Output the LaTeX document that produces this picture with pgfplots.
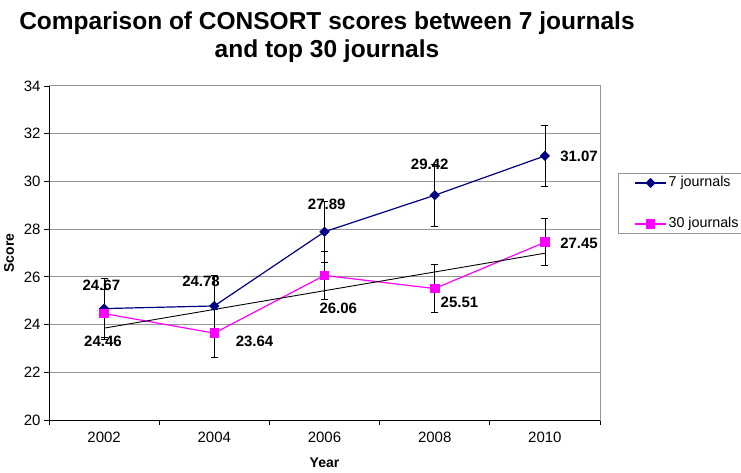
\documentclass[border=0pt]{standalone}
\usepackage{pgfplots}
\pgfplotsset{compat=1.18}
\usepackage{fontspec}
\setmainfont{Liberation Sans}
\definecolor{navyc}{RGB}{0,0,128}
\definecolor{magc}{RGB}{255,0,255}
\definecolor{gridc}{RGB}{150,150,150}
\newcommand{\lgf}{\fontsize{14.3}{14.3}\selectfont}
\begin{document}
\begin{tikzpicture}
\useasboundingbox (0,0) rectangle (741pt,472pt);
\begin{axis}[
 at={(49pt,52pt)}, anchor=south west,
 scale only axis, width=551pt, height=334pt,
 xmin=2001, xmax=2011, ymin=20, ymax=34,
 xtick={2002,2004,...,2010}, xticklabels={2002,2004,2006,2008,2010},
 minor xtick={2001,2003,...,2011},
 ytick={20,22,...,34},
 ymajorgrids, grid style={gridc, line width=1pt},
 major x tick style={draw=none},
 tick align=outside, xtick pos=bottom, ytick pos=left,
 major tick length=5pt, minor tick length=5pt,
 tick style={black, line width=0.8pt},
 axis line style={gridc, line width=1pt},
 /pgf/number format/assume math mode=true,
 ticklabel style={font=\fontsize{15}{15}\selectfont},
 xticklabel style={yshift=-3pt},
 xlabel={Year}, ylabel={Score},
 label style={font=\bfseries\fontsize{14}{14}\selectfont},
 xlabel style={at={(axis description cs:0.5,-0.1287)}, anchor=center},
 ylabel style={at={(axis description cs:-0.0726,0.5)}, anchor=center},
 title={Comparison of CONSORT scores between 7 journals\\and top 30 journals},
 title style={font=\bfseries\fontsize{24.5}{28}\selectfont, align=center,
   at={(axis description cs:0.5045,1.1287)}, anchor=center},
 legend style={at={(rel axis cs:1.0327,0.7395)}, anchor=north west,
   draw=gridc, line width=0.8pt,
   row sep=24pt, inner xsep=16pt, inner ysep=1pt,
   nodes={text height=10pt, text depth=3pt}},
 legend cell align=left,
 legend image code/.code={\draw[mark repeat=2,mark phase=2,#1] plot coordinates {(0pt,0pt) (15.5pt,0pt) (31pt,0pt)};},
 error bars/error bar style={black, line width=0.8pt},
 error bars/error mark options={rotate=90, mark size=3.5pt, black, line width=0.8pt},
]
\addplot[navyc, line width=1.2pt, mark=square*, mark size=3pt,
  mark options={rotate=45, solid},
  error bars/.cd, y dir=both, y explicit]
  coordinates {(2002,24.67) +- (0,1.28) (2004,24.78) +- (0,1.28) (2006,27.89) +- (0,1.27) (2008,29.42) +- (0,1.29) (2010,31.07) +- (0,1.27)};
\addlegendentry{\lgf 7 journals}
\addplot[magc, line width=1.2pt, mark=square*, mark size=4.2pt,
  error bars/.cd, y dir=both, y explicit]
  coordinates {(2002,24.46) +- (0,1.0) (2004,23.64) +- (0,1.0) (2006,26.06) +- (0,1.0) (2008,25.51) +- (0,1.0) (2010,27.45) +- (0,0.99)};
\addlegendentry{\lgf 30 journals}
\addplot[black, line width=0.9pt, forget plot] coordinates {(2002,23.85) (2010,26.99)};
\draw[black, line width=1pt] (rel axis cs:0,1) -- (rel axis cs:0,0) -- (rel axis cs:1,0);
\begin{scope}[font=\bfseries\fontsize{15}{15}\selectfont]
\node at (axis cs:2001.95,25.64) {24.67};
\node at (axis cs:2001.98,23.29) {24.46};
\node at (axis cs:2003.76,25.81) {24.78};
\node at (axis cs:2004.73,23.29) {23.64};
\node at (axis cs:2006.04,29.05) {27.89};
\node at (axis cs:2006.25,24.69) {26.06};
\node at (axis cs:2007.91,30.73) {29.42};
\node at (axis cs:2008.45,24.95) {25.51};
\node at (axis cs:2010.62,31.07) {31.07};
\node at (axis cs:2010.62,27.40) {27.45};
\end{scope}
\end{axis}
\end{tikzpicture}
\end{document}
